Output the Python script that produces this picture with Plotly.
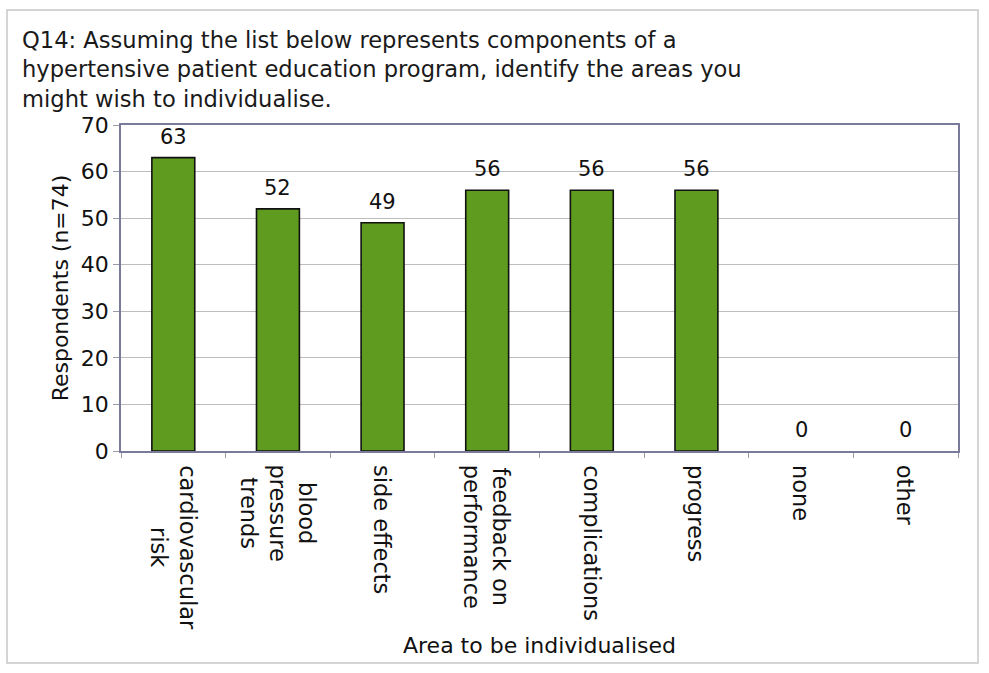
import plotly.graph_objects as go

# Survey responses: areas of a hypertensive education program to individualise
categories = [
    "cardiovascular<br>risk",
    "blood<br>pressure<br>trends",
    "side effects",
    "feedback on<br>performance",
    "complications",
    "progress",
    "none",
    "other",
]
respondents = [63, 52, 49, 56, 56, 56, 0, 0]
y_ticks = [0, 10, 20, 30, 40, 50, 60, 70]

W, H = 989, 673
L, R, T, B = 121, 31, 125, 222
FONT = "DejaVu Sans"
INK = "#111111"

fig = go.Figure()
fig.add_trace(go.Bar(
    x=categories,
    y=respondents,
    marker=dict(
        color="#5f9b1e",
        line=dict(color=INK, width=[1.6 if v > 0 else 0 for v in respondents]),
    ),
    width=0.41,
    hoverinfo="x+y",
))

# value labels above each bar
for cat, v in zip(categories, respondents):
    fig.add_annotation(x=cat, y=v, xref="x", yref="y", text=str(v),
                       showarrow=False, yanchor="bottom", yshift=7,
                       font=dict(family=FONT, size=21, color=INK))

# category labels, rotated and centred line by line
for cat in categories:
    fig.add_annotation(x=cat, y=0, xref="x", yref="paper", text=cat,
                       showarrow=False, textangle=90, align="center",
                       xanchor="center", yanchor="top", yshift=-12,
                       font=dict(family=FONT, size=22.5, color=INK))

# plot-area pixel -> paper coordinate helpers
pw, ph = W - L - R, H - T - B
def px(x):
    return (x - L) / pw
def py(y):
    return 1 - (y - T) / ph

fig.add_shape(type="rect", xref="paper", yref="paper",
              x0=px(7), x1=px(978), y0=py(663), y1=py(10),
              line=dict(color="#c8c8c8", width=1.5), layer="below")

fig.add_annotation(
    xref="paper", yref="paper", x=px(20), y=py(25),
    xanchor="left", yanchor="top", align="left", showarrow=False,
    text=("Q14: Assuming the list below represents components of a<br>"
          "hypertensive patient education program, identify the areas you<br>"
          "might wish to individualise."),
    font=dict(family=FONT, size=22.6, color="#1a1a1a"),
)

fig.add_annotation(
    xref="paper", yref="paper", x=0.5, y=py(645), yanchor="middle",
    showarrow=False, text="Area to be individualised",
    font=dict(family=FONT, size=22, color=INK),
)

fig.update_layout(
    width=W, height=H,
    margin=dict(l=L, r=R, t=T, b=B),
    paper_bgcolor="white",
    plot_bgcolor="white",
    showlegend=False,
    font=dict(family=FONT, size=22, color=INK),
    bargap=0.59,
)
fig.update_xaxes(
    type="category",
    showticklabels=False,
    showline=True, linecolor="#7a7a9a", linewidth=1.5, mirror=True,
    ticks="outside", tickson="boundaries", ticklen=5, tickcolor="#9a9aaa",
)
fig.update_yaxes(
    range=[0, 70],
    tickvals=y_ticks,
    tickfont=dict(family=FONT, size=22, color=INK),
    showline=True, linecolor="#7a7a9a", linewidth=1.5, mirror=True,
    ticks="outside", ticklen=6, tickcolor="#9a9aaa",
    showgrid=True, gridcolor="#bdbdbd", gridwidth=1,
    zeroline=False,
    title=dict(text="Respondents (n=74)", standoff=6,
               font=dict(family=FONT, size=22, color=INK)),
)

fig.write_html("out.html")
